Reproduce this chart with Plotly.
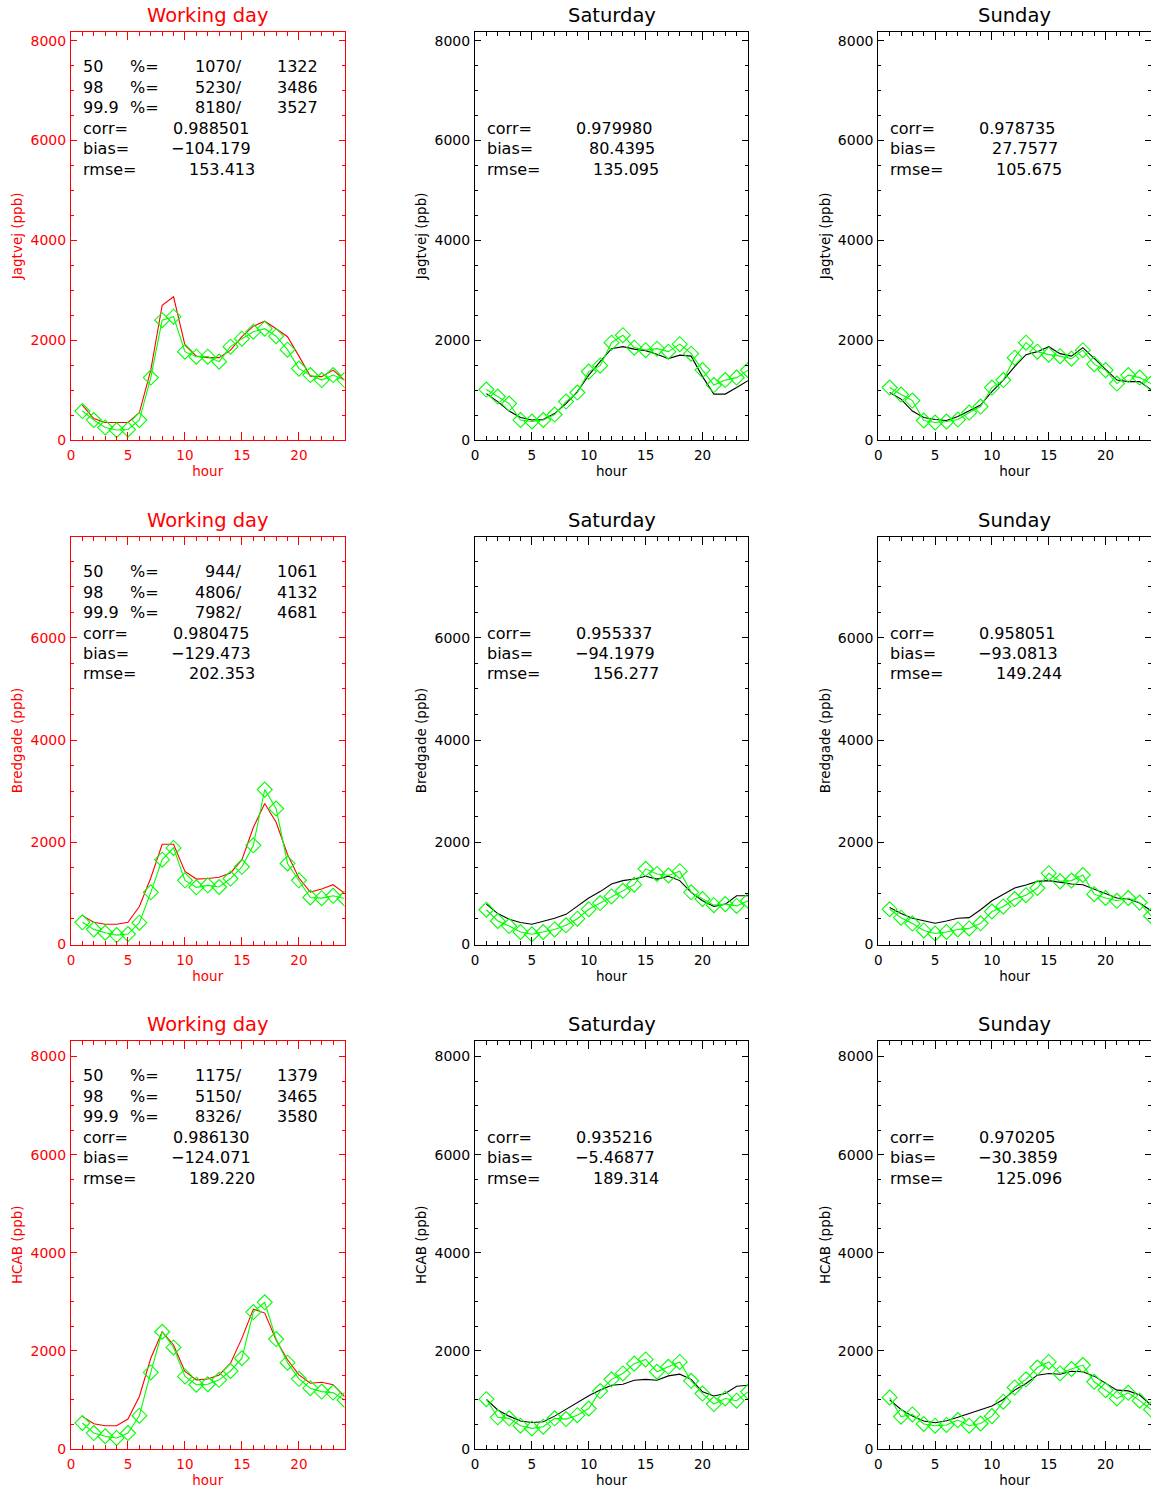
import plotly.graph_objects as go

# ---------------- data ----------------
hours = list(range(1, 25))
stations = ["Jagtvej", "Bredgade", "HCAB"]
day_titles = ["Working day", "Saturday", "Sunday"]

# Jagtvej
jag_wd_line = [700, 430, 350, 350, 350, 550, 1400, 2700, 2870, 1900, 1680, 1650, 1650, 1800, 2070, 2280, 2380, 2230, 2070, 1680, 1280, 1270, 1400, 1200]
jag_wd_obs = [580, 400, 250, 200, 210, 400, 1250, 2400, 2470, 1770, 1670, 1670, 1570, 1870, 2030, 2170, 2230, 2080, 1810, 1430, 1300, 1200, 1300, 1200]
jag_sat_line = [930, 770, 580, 450, 400, 410, 530, 730, 970, 1300, 1570, 1830, 1870, 1820, 1790, 1720, 1630, 1700, 1680, 1270, 920, 920, 1050, 1190]
jag_sat_obs = [1010, 870, 730, 400, 370, 400, 510, 770, 950, 1370, 1490, 1950, 2100, 1850, 1800, 1830, 1770, 1920, 1730, 1400, 1100, 1200, 1250, 1400]
jag_sun_line = [950, 820, 580, 450, 410, 390, 470, 580, 700, 970, 1200, 1470, 1710, 1770, 1870, 1730, 1680, 1850, 1630, 1400, 1200, 1170, 1170, 1010]
jag_sun_obs = [1050, 910, 790, 390, 350, 370, 410, 550, 670, 1050, 1200, 1650, 1950, 1770, 1710, 1680, 1630, 1800, 1520, 1400, 1130, 1300, 1250, 1130]

# Bredgade
bre_wd_line = [565, 434, 395, 395, 434, 743, 1300, 1960, 1960, 1430, 1280, 1290, 1315, 1400, 1660, 2290, 2760, 2390, 1760, 1300, 1025, 1085, 1170, 1005]
bre_wd_obs = [434, 296, 230, 184, 204, 427, 1020, 1660, 1890, 1255, 1118, 1157, 1125, 1290, 1520, 1940, 3030, 2660, 1585, 1255, 920, 907, 953, 900]
bre_sat_line = [790, 605, 495, 430, 395, 450, 515, 590, 745, 910, 1035, 1185, 1250, 1280, 1335, 1280, 1335, 1250, 1020, 855, 745, 790, 955, 955]
bre_sat_obs = [680, 460, 360, 245, 200, 245, 295, 375, 505, 690, 810, 940, 1050, 1170, 1480, 1380, 1350, 1435, 1020, 890, 770, 790, 755, 855]
bre_sun_line = [725, 605, 515, 460, 415, 460, 515, 525, 680, 855, 985, 1105, 1165, 1235, 1250, 1215, 1185, 1170, 1085, 985, 910, 890, 810, 660]
bre_sun_obs = [690, 525, 410, 275, 215, 245, 295, 315, 415, 645, 745, 890, 965, 1105, 1395, 1235, 1250, 1360, 985, 910, 855, 910, 820, 560]

# HCAB
hca_wd_line = [665, 515, 475, 475, 610, 1070, 1850, 2390, 2120, 1580, 1410, 1425, 1510, 1750, 2260, 2850, 2770, 2220, 1820, 1510, 1340, 1360, 1310, 1070]
hca_wd_obs = [530, 325, 260, 225, 325, 680, 1560, 2390, 2070, 1480, 1310, 1320, 1410, 1590, 1850, 2790, 2990, 2240, 1760, 1430, 1240, 1170, 1150, 1000]
hca_sat_line = [1010, 795, 670, 570, 540, 555, 670, 805, 950, 1085, 1200, 1300, 1320, 1400, 1420, 1400, 1490, 1525, 1420, 1165, 1080, 1130, 1280, 1300]
hca_sat_obs = [1015, 645, 625, 475, 420, 455, 625, 610, 690, 825, 1180, 1420, 1540, 1740, 1825, 1575, 1675, 1775, 1390, 1130, 915, 1030, 985, 1165]
hca_sun_line = [1000, 805, 670, 570, 535, 575, 645, 725, 805, 875, 1010, 1200, 1335, 1505, 1540, 1525, 1585, 1575, 1485, 1335, 1200, 1185, 1100, 895]
hca_sun_obs = [1050, 660, 705, 510, 475, 490, 590, 475, 520, 670, 965, 1255, 1420, 1660, 1775, 1540, 1630, 1710, 1370, 1200, 1030, 1145, 985, 805]

line_data = [[jag_wd_line, jag_sat_line, jag_sun_line],
             [bre_wd_line, bre_sat_line, bre_sun_line],
             [hca_wd_line, hca_sat_line, hca_sun_line]]
obs_data = [[jag_wd_obs, jag_sat_obs, jag_sun_obs],
            [bre_wd_obs, bre_sat_obs, bre_sun_obs],
            [hca_wd_obs, hca_sat_obs, hca_sun_obs]]

# percentile table (working day panels): level, value A, value B
pct_levels = ["50", "98", "99.9"]
jag_pct_a = [1070, 5230, 8180]
jag_pct_b = [1322, 3486, 3527]
bre_pct_a = [944, 4806, 7982]
bre_pct_b = [1061, 4132, 4681]
hca_pct_a = [1175, 5150, 8326]
hca_pct_b = [1379, 3465, 3580]
pct_a = [jag_pct_a, bre_pct_a, hca_pct_a]
pct_b = [jag_pct_b, bre_pct_b, hca_pct_b]

# statistics text per panel (corr, bias, rmse)
stats_corr = [["0.988501", "0.979980", "0.978735"],
              ["0.980475", "0.955337", "0.958051"],
              ["0.986130", "0.935216", "0.970205"]]
stats_bias = [["\u2212104.179", "80.4395", "27.7577"],
              ["\u2212129.473", "\u221294.1979", "\u221293.0813"],
              ["\u2212124.071", "\u22125.46877", "\u221230.3859"]]
stats_rmse = [["153.413", "135.095", "105.675"],
              ["202.353", "156.277", "149.244"],
              ["189.220", "189.314", "125.096"]]

x_ticks = [0, 5, 10, 15, 20]
y_ticks = [0, 2000, 4000, 6000, 8000]

# ---------------- layout geometry ----------------
W, H = 1151, 1490
col_px = [(71.0, 344.5), (475.0, 748.0), (878.3, 1151.0)]
row_px = [(31.7, 440.0), (536.5, 944.5), (1040.5, 1449.0)]

FONT = "DejaVu Sans"
RED = "#ff0000"
GREEN = "#00ff00"

fig = go.Figure()
layout = dict(width=W, height=H, margin=dict(l=0, r=0, t=0, b=0, autoexpand=False),
              paper_bgcolor="white", plot_bgcolor="white",
              showlegend=False, font=dict(family=FONT, color="black"))
annotations = []

text_rows = [0.9143, 0.8638, 0.8138, 0.7634, 0.7134, 0.6630]

for r in range(3):
    for c in range(3):
        k = r * 3 + c
        xn = "x" if k == 0 else f"x{k + 1}"
        yn = "y" if k == 0 else f"y{k + 1}"
        xkey = "xaxis" if k == 0 else f"xaxis{k + 1}"
        ykey = "yaxis" if k == 0 else f"yaxis{k + 1}"
        col = RED if c == 0 else "black"
        line_col = RED if c == 0 else "black"
        ymax = pct_a[r][2]

        fig.add_trace(go.Scatter(x=hours, y=line_data[r][c], mode="lines",
                                 line=dict(color=line_col, width=1.1),
                                 xaxis=xn, yaxis=yn, hoverinfo="skip"))
        fig.add_trace(go.Scatter(x=hours, y=obs_data[r][c], mode="lines+markers",
                                 line=dict(color=GREEN, width=1.1),
                                 marker=dict(symbol="diamond-open", size=11.5,
                                             color=GREEN, line=dict(color=GREEN, width=1.1)),
                                 xaxis=xn, yaxis=yn, hoverinfo="skip"))

        x0, x1 = col_px[c]
        y0, y1 = row_px[r]
        layout[xkey] = dict(
            domain=[x0 / W, min(x1 / W, 1.0)], anchor=yn, range=[0, 24],
            automargin=False,
            tickmode="array", tickvals=x_ticks, ticks="inside", ticklen=8,
            tickcolor=col, tickwidth=1, showline=True, linecolor=col, linewidth=1,
            mirror="allticks", showgrid=False, zeroline=False,
            tickfont=dict(family=FONT, size=13.5, color=col),
            ticklabelstandoff=3,
            minor=dict(dtick=1, tick0=0, ticks="inside", ticklen=4, tickcolor=col,
                       tickwidth=1, showgrid=False),
            title=dict(text="hour", font=dict(family=FONT, size=13.5, color=col), standoff=4),
        )
        layout[ykey] = dict(
            domain=[1 - y1 / H, 1 - y0 / H], anchor=xn, range=[0, ymax],
            automargin=False,
            tickmode="array", tickvals=y_ticks, ticks="inside", ticklen=6,
            tickcolor=col, tickwidth=1, showline=True, linecolor=col, linewidth=1,
            mirror="allticks", showgrid=False, zeroline=False,
            tickfont=dict(family=FONT, size=14, color=col),
            ticklabelstandoff=1,
            minor=dict(dtick=500, tick0=0, ticks="inside", ticklen=3, tickcolor=col,
                       tickwidth=1, showgrid=False),
            title=dict(text=f"{stations[r]} (ppb)", font=dict(family=FONT, size=13.5, color=col),
                       standoff=4),
        )

        # panel title
        annotations.append(dict(text=day_titles[c], xref=f"{xn} domain", yref="paper",
                                x=0.5, y=1 - (y0 - 16) / H, xanchor="center", yanchor="middle",
                                showarrow=False, font=dict(family=FONT, size=19.5, color=col)))

        dom = dict(xref=f"{xn} domain", yref=f"{yn} domain", showarrow=False,
                   yanchor="middle")
        tf = dict(family=FONT, size=16, color="black")
        if c == 0:
            for i in range(3):
                annotations.append(dict(dom, text=pct_levels[i], x=0.035, y=text_rows[i],
                                        xanchor="left", font=tf))
                annotations.append(dict(dom, text="%=", x=0.21, y=text_rows[i],
                                        xanchor="left", font=tf))
                annotations.append(dict(dom, text=f"{pct_a[r][i]}/", x=0.632, y=text_rows[i],
                                        xanchor="right", font=tf))
                annotations.append(dict(dom, text=f"{pct_b[r][i]}", x=0.909, y=text_rows[i],
                                        xanchor="right", font=tf))
        labels = ["corr=", "bias=", "rmse="]
        vals = [stats_corr[r][c], stats_bias[r][c], stats_rmse[r][c]]
        vx = [0.657, 0.665, 0.68]
        for i in range(3):
            annotations.append(dict(dom, text=labels[i], x=0.035, y=text_rows[3 + i],
                                    xanchor="left", font=tf))
            annotations.append(dict(dom, text=vals[i], x=vx[i], y=text_rows[3 + i],
                                    xanchor="right", font=tf))

layout["annotations"] = annotations
fig.update_layout(**layout)
fig.write_html("out.html")
